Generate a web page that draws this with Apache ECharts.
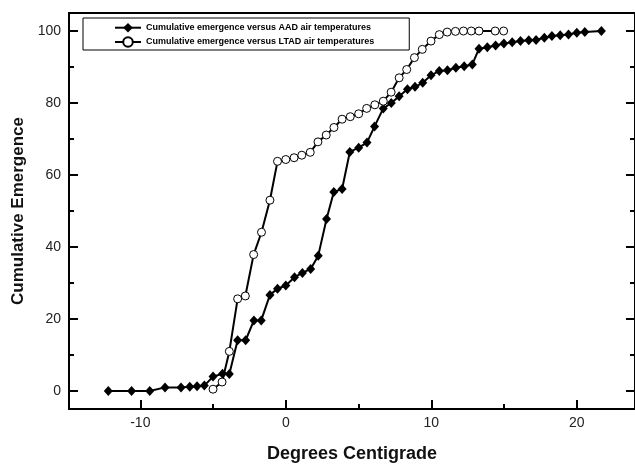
<!DOCTYPE html>
<html>
<head>
<meta charset="utf-8">
<script src="https://cdn.jsdelivr.net/npm/echarts@6/dist/echarts.min.js"></script>
<style>
  html, body { margin: 0; padding: 0; background: #fff; }
  #main { width: 635px; height: 468px; }
</style>
</head>
<body>
<div id="main"></div>
<script>
// cumulative emergence (%) against AAD air temperature (deg C)
var aadTemp = [-12.2, -10.6, -9.35, -8.3, -7.2, -6.6, -6.1, -5.6, -5.0, -4.35, -3.88, -3.31, -2.76,
    -2.19, -1.69, -1.09, -0.57, 0.0, 0.6, 1.14, 1.71, 2.23, 2.8, 3.3, 3.87, 4.4, 5.01, 5.58, 6.1, 6.7,
    7.25, 7.79, 8.36, 8.88, 9.41, 9.98, 10.55, 11.11, 11.69, 12.26, 12.82, 13.28, 13.85, 14.42, 14.99,
    15.56, 16.13, 16.7, 17.2, 17.77, 18.29, 18.86, 19.43, 20.0, 20.55, 21.69];
var aadCum = [0, 0, 0, 1.0, 1.0, 1.2, 1.3, 1.5, 4.0, 4.8, 4.7, 14.1, 14.1,
    19.6, 19.6, 26.7, 28.4, 29.3, 31.6, 32.8, 33.9, 37.6, 47.8, 55.3, 56.1, 66.4, 67.6, 69.0, 73.5, 78.5,
    80.0, 81.9, 83.8, 84.5, 85.6, 87.7, 88.9, 89.1, 89.8, 90.2, 90.7, 95.1, 95.5, 96.0, 96.5,
    96.9, 97.2, 97.4, 97.5, 98.1, 98.6, 98.8, 99.0, 99.5, 99.7, 100];

// cumulative emergence (%) against LTAD air temperature (deg C)
var ltadTemp = [-5.0, -4.38, -3.88, -3.31, -2.78, -2.21, -1.67, -1.09, -0.57, 0.0, 0.57, 1.1, 1.68,
    2.21, 2.78, 3.31, 3.87, 4.43, 5.01, 5.56, 6.12, 6.7, 7.24, 7.79, 8.31, 8.84, 9.38, 9.98, 10.55,
    11.09, 11.66, 12.21, 12.75, 13.28, 14.39, 14.97];
var ltadCum = [0.5, 2.5, 11.0, 25.6, 26.4, 37.9, 44.1, 53.0, 63.8, 64.3, 64.8, 65.5, 66.3,
    69.2, 71.1, 73.2, 75.5, 76.2, 77.0, 78.5, 79.5, 80.5, 83.0, 87.0, 89.3, 92.6, 94.9, 97.2, 99.0,
    99.7, 99.9, 100, 100, 100, 100, 100];

var seriesNames = ['Cumulative emergence versus AAD air temperatures',
    'Cumulative emergence versus LTAD air temperatures'];
var xMajorTicks = [-10, 0, 10, 20];
var xMinorTicks = [-5, 5, 15];
var yMajorTicks = [0, 20, 40, 60, 80, 100];
var yMinorTicks = [10, 30, 50, 70, 90];

var font = 'Arial, "Liberation Sans", sans-serif';
var black = { color: '#000', width: 2 };

function pairs(xs, ys) {
    return xs.map(function (x, i) { return [x, ys[i]]; });
}

// one axis only carries ticks (and maybe labels); the frame comes from the grid border
function tickAxis(pos, min, max, ticks, len, withLabels) {
    return {
        type: 'value',
        position: pos,
        min: min,
        max: max,
        axisLine: { show: false, onZero: false },
        axisTick: { show: true, inside: true, length: len, customValues: ticks, lineStyle: black },
        axisLabel: {
            show: withLabels,
            customValues: ticks,
            margin: 8,
            fontSize: 14,
            color: '#222',
            fontFamily: font
        },
        splitLine: { show: false }
    };
}

var chart = echarts.init(document.getElementById('main'), null, { renderer: 'canvas' });

var xBottom = tickAxis('bottom', -14.9, 24, xMajorTicks, 9, true);
xBottom.axisLabel.margin = 7;
xBottom.name = 'Degrees Centigrade';
xBottom.nameLocation = 'middle';
xBottom.nameGap = 36;
xBottom.nameTextStyle = { fontSize: 18, fontWeight: 'bold', color: '#111', fontFamily: font };

var yLeft = tickAxis('left', -5, 105, yMajorTicks, 9, true);
yLeft.name = 'Cumulative Emergence';
yLeft.nameLocation = 'middle';
yLeft.nameGap = 42;
yLeft.nameTextStyle = { fontSize: 17, fontWeight: 'bold', color: '#111', fontFamily: font };

var option = {
    animation: false,
    backgroundColor: '#fff',
    grid: {
        left: 69, right: -3, top: 13, bottom: 58,
        show: true, borderColor: '#000', borderWidth: 2, backgroundColor: 'transparent'
    },
    legend: {
        orient: 'vertical',
        left: 83,
        top: 18,
        padding: [3.7, 35, 2, 31],
        itemWidth: 26,
        itemHeight: 12,
        itemGap: 2.3,
        borderColor: '#000',
        borderWidth: 1,
        textStyle: { fontSize: 9, fontWeight: 'bold', color: '#000', fontFamily: font, lineHeight: 12 },
        data: seriesNames
    },
    xAxis: [
        xBottom,
        tickAxis('bottom', -14.9, 24, xMinorTicks, 5, false)
    ],
    yAxis: [
        yLeft,
        tickAxis('left', -5, 105, yMinorTicks, 5, false),
        tickAxis('right', -5, 105, yMajorTicks, 9, false),
        tickAxis('right', -5, 105, yMinorTicks, 5, false)
    ],
    series: [
        {
            name: seriesNames[0],
            type: 'line',
            xAxisIndex: 0,
            yAxisIndex: 0,
            data: pairs(aadTemp, aadCum),
            symbol: 'diamond',
            symbolSize: [9, 10],
            itemStyle: { color: '#000' },
            lineStyle: black
        },
        {
            name: seriesNames[1],
            type: 'line',
            xAxisIndex: 0,
            yAxisIndex: 0,
            data: pairs(ltadTemp, ltadCum),
            symbol: 'circle',
            symbolSize: 8,
            itemStyle: { color: '#fff', borderColor: '#000', borderWidth: 1 },
            lineStyle: black
        }
    ]
};

chart.setOption(option);
</script>
</body>
</html>
